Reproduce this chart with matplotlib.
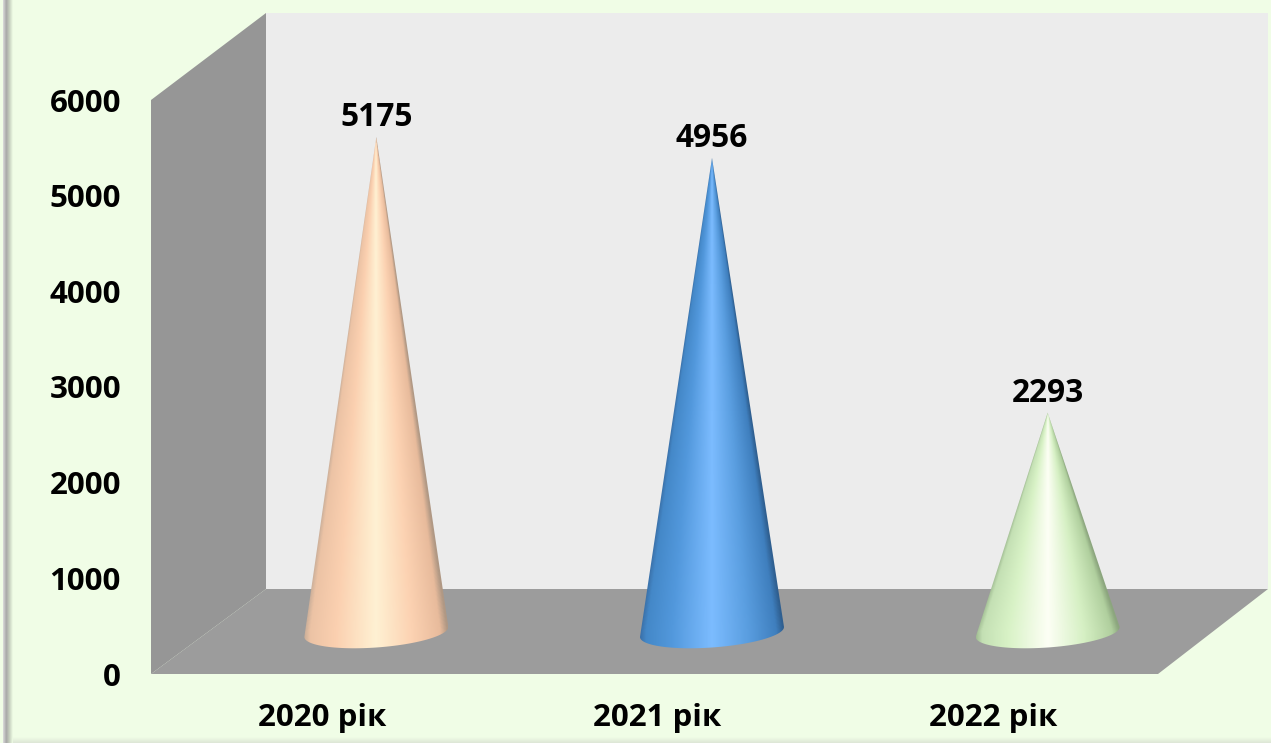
import numpy as np
import matplotlib
matplotlib.use("Agg")
import matplotlib.pyplot as plt
from matplotlib.colors import LinearSegmentedColormap
from matplotlib.patches import Polygon, PathPatch
from matplotlib.path import Path

categories = ["2020 рік", "2021 рік", "2022 рік"]
values = [5175, 4956, 2293]
y_ticks = [0, 1000, 2000, 3000, 4000, 5000, 6000]

# edge -> centre -> edge shading of each cone
cone_stops = [0, 0.04, 0.22, 0.5, 0.75, 0.95, 1]
cone_colors = [
    ["#c8ad98", "#ecc3a5", "#fbd0b0", "#fff1d3", "#fcd2b2", "#e8bb9c", "#b09884"],
    ["#3a70a8", "#4488c8", "#5298dc", "#7cbcff", "#5a9ee0", "#3f7fbe", "#2f5f90"],
    ["#a0bc92", "#c4e0b4", "#d8f2c6", "#fdfff5", "#d6f0c4", "#b0cf9e", "#8ca67e"],
]

W, H = 1271, 743
BG = "#f0fde6"
BACK = "#ececec"
SIDE = "#969696"
FLOOR = "#9c9c9c"

plt.rcParams["font.family"] = ["Open Sans", "DejaVu Sans"]
plt.rcParams["font.weight"] = "bold"

fig = plt.figure(figsize=(W / 100, H / 100), dpi=100, facecolor=BG)

# slide frame: soft grey strip down the left side, pale strip along the bottom
frame = fig.add_axes([0, 0, 1, 1], zorder=0)
frame.axis("off")
left = LinearSegmentedColormap.from_list("l", ["#dcdcdc", "#a8a8a8", "#c8d2c0", BG])
frame.imshow(np.linspace(0, 1, 64)[None, :], cmap=left, extent=(3, 13, H, 0), aspect="auto")
bottom = LinearSegmentedColormap.from_list("b", [BG, "#dde6d6"])
frame.imshow(np.linspace(0, 1, 32)[:, None], cmap=bottom, extent=(13, W, H, H - 6), aspect="auto")
frame.set_xlim(0, W)
frame.set_ylim(H, 0)

# axes sit on the front plane of the 3D box
ax = fig.add_axes([151 / W, (H - 674) / H, (1158 - 151) / W, (674 - 100) / H], zorder=1)
ax.patch.set_alpha(0)
for s in ax.spines.values():
    s.set_visible(False)

px_x = 3 / 1007  # one pixel in category units
px_y = 6000 / 574  # one pixel in value units
depth_x = 115 * px_x
floor_depth = 85 * px_y
top_depth = 87 * px_y
x0, x1 = -0.5, 2.5
top = y_ticks[-1]
back_right = x1 + 110 * px_x

ax.add_patch(Polygon([(x0 + depth_x, floor_depth), (back_right, floor_depth), (back_right, top + top_depth),
                      (x0 + depth_x, top + top_depth)], fc=BACK, ec="none", clip_on=False))
ax.add_patch(Polygon([(x0, 0), (x0 + depth_x, floor_depth), (x0 + depth_x, top + top_depth), (x0, top)],
                     fc=SIDE, ec="none", clip_on=False))
ax.add_patch(Polygon([(x0, 0), (x1, 0), (back_right, floor_depth), (x0 + depth_x, floor_depth)],
                     fc=FLOOR, ec="none", clip_on=False))

half_w = 72 * px_x
half_h = 15.5 * px_y
tilt = 5 * px_y
base = 42 * px_y
for i, v in enumerate(values):
    cx = i + depth_x / 2
    cmap = LinearSegmentedColormap.from_list(f"cone{i}", list(zip(cone_stops, cone_colors[i])))

    # shading runs towards the apex, so the image is scaled by the width at each height
    xs = np.linspace(cx - half_w, cx + half_w, 240)
    ys = np.linspace(base - half_h - tilt, base + v, 600)
    xx, yy = np.meshgrid(xs, ys)
    width = half_w * np.clip((base + v - yy) / v, 0.001, 1)
    u = np.clip((xx - cx) / width, -1, 1)
    im = ax.imshow((u + 1) / 2, cmap=cmap, vmin=0, vmax=1, origin="lower", aspect="auto",
                   extent=(xs[0], xs[-1], ys[0], ys[-1]), interpolation="bilinear", zorder=3)

    # base ellipse leans up to the right
    angles = np.linspace(np.pi, 2 * np.pi, 60)
    outline = [(cx, base + v)] + [(cx + half_w * np.cos(a), base + half_h * np.sin(a) + tilt * np.cos(a))
                                  for a in angles]
    clip = PathPatch(Path(outline + [(cx, base + v)]), transform=ax.transData, fc="none", ec="none")
    ax.add_patch(clip)
    im.set_clip_path(clip)

    ax.text(cx, base + v + 2.5 * px_y, str(v), ha="center", va="bottom", fontsize=22.8,
            fontweight="bold", color="black", zorder=4)

ax.set_xlim(x0, x1)
ax.set_ylim(0, top)
ax.set_xticks([i + 3 * px_x for i in range(len(categories))], categories)
ax.set_yticks(y_ticks)
ax.tick_params(axis="both", length=0, labelsize=22.5)
ax.tick_params(axis="y", pad=21.6)
ax.tick_params(axis="x", pad=21)
for lab in ax.get_xticklabels() + ax.get_yticklabels():
    lab.set_fontweight("bold")

fig.savefig("out.png", dpi=100, facecolor=BG)
